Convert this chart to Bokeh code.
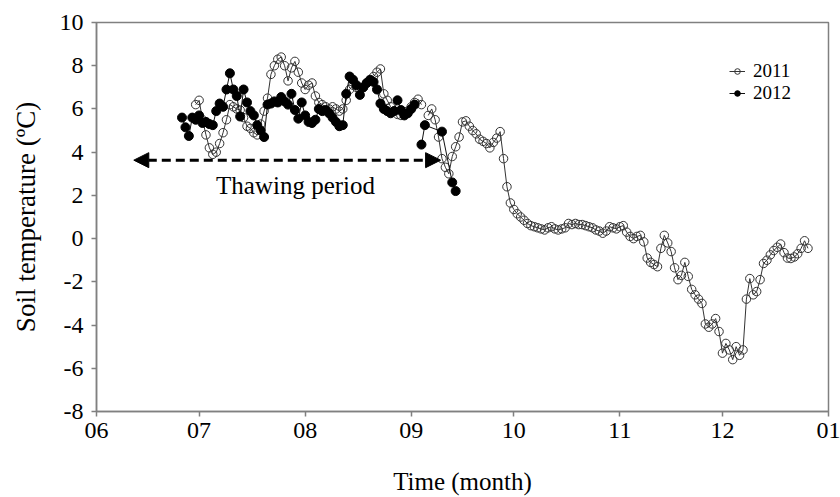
from bokeh.plotting import figure
from bokeh.models import (Legend, LegendItem, Arrow, NormalHead, Label,
                          FixedTicker, ColumnDataSource, Range1d)
from bokeh.embed import file_html
from bokeh.resources import INLINE

nan = float("nan")

# x values: day counted from 1 June
month_tick_days = [0, 30, 61, 92, 122, 153, 183, 214]
month_tick_labels = ["06", "07", "08", "09", "10", "11", "12", "01"]
y_ticks = [-8, -6, -4, -2, 0, 2, 4, 6, 8, 10]
y_tick_labels = ["-8", "-6", "-4", "-2", "0", "2", "4", "6", "8", "10"]

temp_2011 = [
    6.2, 6.4, 5.5, 4.8, 4.2, 3.9, 4.0, 4.4, 4.9, 5.5,          # d29-38
    6.2, 6.1, 6.0, 5.95, 5.6, 5.2, 5.1, 4.9, 4.8, 5.3,         # d39-48
    5.9, 6.5, 7.6, 8.0, 8.3, 8.4, 8.0, 7.3, 7.9, 8.2,          # d49-58
    7.7, 7.2, 6.9, 7.1, 7.2, 6.6, 6.3, 6.2, 6.1, 6.0,          # d59-68
    6.1, 6.0, 5.9, 6.0, 6.4, 6.9, 7.1, 7.0, 6.9, 7.0,          # d69-78
    7.2, 7.3, 7.5, 7.7, 7.85, 6.7, 6.4, 6.1, 5.9, 5.75,        # d79-88
    5.7, 5.75, 5.9, 6.1, 6.3, 6.45, 6.2, nan, 5.7, 6.0,        # d89-98
    5.5, 4.7, 3.7, 3.3, 3.0, 3.8, 4.25, 4.7, 5.4, 5.45,        # d99-108
    5.2, 5.0, 4.85, 4.6, 4.5, 4.4, 4.2, 4.45, 4.65, 4.95,      # d109-118
    3.7, 2.4, 1.65, 1.35, 1.15, 1.0, 0.85, 0.7, 0.6, 0.55,     # d119-128
    0.5, 0.45, 0.4, 0.5, 0.55, 0.45, 0.4, 0.45, 0.5, 0.7,      # d129-138
    0.65, 0.7, 0.65, 0.65, 0.6, 0.55, 0.5, 0.4, 0.35, 0.25,    # d139-148
    0.35, 0.55, 0.5, 0.45, 0.55, 0.6, 0.3, 0.1, 0.0, 0.1,      # d149-158
    0.15, -0.15, -0.9, -1.1, -1.2, -1.3, -0.45, 0.15, -0.2, -0.6,   # d159-168
    -1.35, -1.9, -1.7, -1.1, -1.75, -2.35, -2.6, -2.8, -3.0, -3.95, # d169-178
    -4.1, -3.95, -3.7, -4.3, -5.3, -4.85, -5.15, -5.6, -5.0, -5.4,  # d179-188
    -5.15, -2.8, -1.85, -2.6, -2.45, -1.9, -1.15, -1.0, -0.75, -0.55,  # d189-198
    -0.4, -0.25, -0.65, -0.9, -0.92, -0.85, -0.7, -0.45, -0.1, -0.45,  # d199-208
]
days_2011 = list(range(29, 29 + len(temp_2011)))

temp_2012 = [
    5.6, 5.15, 4.75, 5.6, 5.5, 5.7, 5.35, 5.4, 5.3, 5.25,      # d25-34
    5.9, 6.25, 6.1, 6.9, 7.65, 6.9, 6.6, 5.65, 6.9, 6.3,       # d35-44
    5.9, 5.7, 5.25, 5.0, 4.7, 6.2, 6.25, 6.35, 6.3, 6.55,      # d45-54
    6.35, 6.2, 6.7, 5.95, 5.55, 6.3, 5.7, 5.4, 5.35, 5.5,      # d55-64
    6.0, 5.9, 5.95, 5.8, 5.6, 5.4, 5.2, 5.25, 6.7, 7.5,        # d65-74
    7.35, 7.1, 6.65, 7.0, 7.2, 7.35, 7.25, 6.9, 6.25, 6.0,     # d75-84
    5.9, 5.8, 5.9, 6.4, 5.95, 5.7, 5.8, 6.0, 6.2, nan,         # d85-94
    4.35, 5.25,                                                # d95-96
    4.95, 2.6, 2.2,                                            # d101, d104, d105
]
days_2012 = list(range(25, 97)) + [101, 104, 105]

serif = "Liberation Serif"

p = figure(width=840, height=497, output_backend="svg", toolbar_location=None,
           x_range=Range1d(0, 214), y_range=Range1d(-8, 10),
           min_border_left=96, min_border_right=12, min_border_top=22,
           min_border_bottom=86, background_fill_color="white",
           border_fill_color="white")

p.xgrid.visible = False
p.ygrid.visible = False
p.outline_line_color = "#808080"
p.outline_line_width = 1.5

src11 = ColumnDataSource(dict(x=days_2011, y=temp_2011))
src12 = ColumnDataSource(dict(x=days_2012, y=temp_2012))

l1 = p.line("x", "y", source=src11, line_color="#333333", line_width=1)
c1 = p.scatter("x", "y", source=src11, size=8.5, marker="circle",
               fill_color=None, line_color="#333333", line_width=1)
l2 = p.line("x", "y", source=src12, line_color="#111111", line_width=1)
c2 = p.scatter("x", "y", source=src12, size=9, marker="circle",
               fill_color="black", line_color="black", line_width=1)

# axes
for ax in (p.xaxis[0], p.yaxis[0]):
    ax.axis_line_color = "#808080"
    ax.axis_line_width = 1.5
    ax.major_tick_line_color = "#808080"
    ax.major_tick_line_width = 1.5
    ax.major_tick_out = 5
    ax.major_tick_in = 0
    ax.minor_tick_line_color = None
    ax.major_label_text_font = serif
    ax.major_label_text_font_size = "24px"
    ax.major_label_text_color = "black"
    ax.axis_label_text_font = serif
    ax.axis_label_text_font_size = "25px"
    ax.axis_label_text_font_style = "normal"
    ax.axis_label_text_color = "black"

p.xaxis.ticker = FixedTicker(ticks=month_tick_days)
p.xaxis.major_label_overrides = {d: lab for d, lab in zip(month_tick_days, month_tick_labels)}
p.xaxis.axis_label = "Time (month)"
p.xaxis.major_label_standoff = 6
p.xaxis.axis_label_standoff = 27

p.yaxis.ticker = FixedTicker(ticks=y_ticks)
p.yaxis.major_label_overrides = {v: lab for v, lab in zip(y_ticks, y_tick_labels)}
p.yaxis.axis_label = "Soil temperature (\u00baC)"
p.yaxis.axis_label_text_font_size = "27px"
p.yaxis.major_label_standoff = 8
p.yaxis.axis_label_standoff = 16

# legend
legend = Legend(items=[LegendItem(label="2011", renderers=[l1, c1]),
                       LegendItem(label="2012", renderers=[l2, c2])],
                location=(633, 307), border_line_color=None,
                background_fill_alpha=0, padding=0, margin=0, spacing=-3,
                label_text_font=serif, label_text_font_size="19px",
                label_text_color="black",
                glyph_width=16, glyph_height=14, label_height=14,
                label_standoff=8)
p.add_layout(legend)

# thawing period arrow and label
p.add_layout(Arrow(start=NormalHead(size=15, fill_color="black", line_color="black"),
                   end=NormalHead(size=15, fill_color="black", line_color="black"),
                   x_start=10.9, y_start=3.63, x_end=100.6, y_end=3.63,
                   line_color="black", line_width=3, line_dash="9 5"))
p.add_layout(Label(x=58.2, y=2.48, text="Thawing period", text_align="center",
                   text_baseline="middle", text_font=serif,
                   text_font_size="25px", text_color="black"))

open("out.html", "w").write(file_html(p, INLINE))
